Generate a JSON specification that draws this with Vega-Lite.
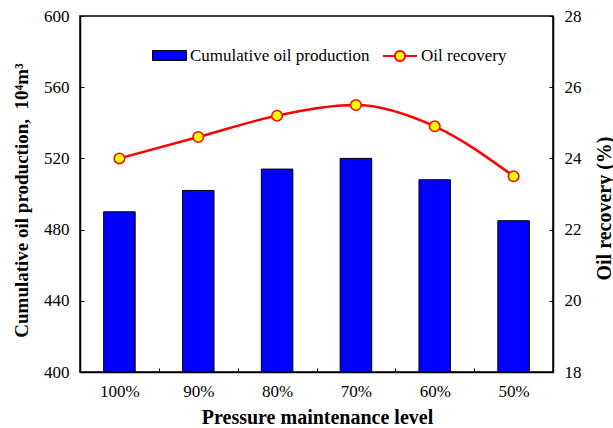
{
  "$schema": "https://vega.github.io/schema/vega-lite/v6.json",
  "width": 473,
  "height": 356,
  "autosize": "none",
  "padding": {"left": 80, "top": 16, "right": 61, "bottom": 56},
  "data": {
    "values": [
      {"level": "100%", "production": 490, "recovery": 24.0},
      {"level": "90%", "production": 502, "recovery": 24.6},
      {"level": "80%", "production": 514, "recovery": 25.2},
      {"level": "70%", "production": 520, "recovery": 25.5},
      {"level": "60%", "production": 508, "recovery": 24.9},
      {"level": "50%", "production": 485, "recovery": 23.5}
    ]
  },
  "encoding": {
    "x": {
      "field": "level",
      "type": "nominal",
      "sort": null,
      "scale": {"paddingInner": 0, "paddingOuter": 0},
      "axis": {
        "title": "Pressure maintenance level",
        "labelAngle": 0,
        "tickBand": "extent",
        "titleFontSize": 20,
        "titleX": 237,
        "titleY": 51,
        "titleBaseline": "alphabetic"
      }
    }
  },
  "layer": [
    {
      "mark": {"type": "bar", "width": {"band": 0.4}, "stroke": "black", "strokeWidth": 1},
      "encoding": {
        "y": {
          "field": "production",
          "type": "quantitative",
          "scale": {"domain": [400, 600], "nice": false, "zero": false},
          "axis": {
            "title": "Cumulative oil production,\u00a0\u00a010⁴m³",
            "values": [400, 440, 480, 520, 560, 600],
            "titleFontSize": 19,
            "titleX": -53,
            "titleY": 184,
            "titleAngle": -90,
            "titleBaseline": "alphabetic"
          }
        },
        "y2": {"datum": 400},
        "color": {
          "datum": "Cumulative oil production",
          "scale": {"range": ["#0000FF"]},
          "legend": {
            "orient": "none",
            "legendX": 72,
            "legendY": 22,
            "title": null,
            "symbolType": "M-1,-0.29H1V0.29H-1Z",
            "symbolSize": 1156,
            "symbolStrokeColor": "black",
            "symbolStrokeWidth": 1,
            "labelOffset": 3,
            "labelLimit": 300
          }
        }
      }
    },
    {
      "encoding": {
        "y": {
          "field": "recovery",
          "type": "quantitative",
          "scale": {"domain": [18, 28], "nice": false, "zero": false},
          "axis": {
            "orient": "right",
            "title": "Oil recovery (%)",
            "values": [18, 20, 22, 24, 26, 28],
            "titleFontSize": 20,
            "titleX": 57,
            "titleY": 192,
            "titleAngle": -90,
            "titleBaseline": "alphabetic"
          }
        }
      },
      "layer": [
        {
          "mark": {"type": "line", "interpolate": "monotone", "strokeWidth": 2.5},
          "encoding": {
            "stroke": {
              "datum": "Oil recovery",
              "scale": {"range": ["#FF0000"]},
              "legend": {
                "orient": "none",
                "legendX": 302,
                "legendY": 22,
                "title": null,
                "symbolType": "M-1,0H-0.3M0.3,0H1M0.3,0A0.3,0.3,0,1,1,-0.3,0A0.3,0.3,0,1,1,0.3,0Z",
                "symbolSize": 1156,
                "symbolStrokeWidth": 2,
                "labelOffset": 3,
                "labelLimit": 300,
                "encode": {"symbols": {"update": {"fill": {"value": "#FFFF00"}, "stroke": {"value": "#FF0000"}}}}
              }
            }
          }
        },
        {
          "mark": {"type": "point", "filled": true, "fill": "#FFFF00", "stroke": "#FF0000", "strokeWidth": 1.5, "size": 110, "opacity": 1}
        }
      ]
    }
  ],
  "resolve": {"scale": {"y": "independent", "color": "independent", "stroke": "independent"}},
  "config": {
    "font": "Times New Roman, Liberation Serif, serif",
    "view": {"stroke": "black", "strokeWidth": 1.5},
    "axis": {
      "grid": false,
      "domainColor": "black",
      "domainWidth": 1.5,
      "tickColor": "black",
      "tickSize": -4,
      "labelPadding": 15,
      "labelFontSize": 17,
      "labelColor": "black",
      "labelFont": "Times New Roman, Liberation Serif, serif",
      "titleFont": "Times New Roman, Liberation Serif, serif",
      "titleFontWeight": "bold",
      "titleColor": "black"
    },
    "legend": {
      "labelFontSize": 17,
      "labelFont": "Times New Roman, Liberation Serif, serif",
      "labelColor": "black"
    }
  }
}
